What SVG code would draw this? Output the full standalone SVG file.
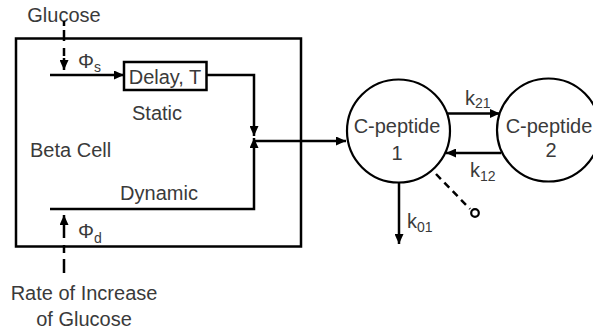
<svg xmlns="http://www.w3.org/2000/svg" width="593" height="334" viewBox="0 0 593 334">
<style>
  text { font-family: "Liberation Sans", Arial, sans-serif; font-size: 20px; fill: #3a3a3a; }
  .sub { font-size: 14px; }
  .mid { text-anchor: middle; }
  .ln { fill: none; stroke: #000; stroke-width: 2.5; }
  .dash { fill: none; stroke: #000; stroke-width: 2.5; stroke-dasharray: 7 5; }
  .shape { fill: #fff; stroke: #000; stroke-width: 2.2; }
</style>
<defs>
  <marker id="ah" markerUnits="userSpaceOnUse" markerWidth="11" markerHeight="9" refX="10" refY="4.5" orient="auto">
    <path d="M0,0 L10,4.5 L0,9 z" fill="#000"/>
  </marker>
</defs>
<rect width="593" height="334" fill="#fff"/>

<g id="beta-cell">
  <rect x="16" y="38.5" width="285" height="208" fill="none" stroke="#000" stroke-width="2.5"/>
  <text x="30" y="157">Beta Cell</text>
  <text x="157" y="120" class="mid">Static</text>
  <text x="159" y="200" class="mid">Dynamic</text>
</g>

<g id="delay">
  <rect x="124" y="62" width="82.5" height="28" fill="#fff" stroke="#000" stroke-width="2.5"/>
  <text x="165" y="84" class="mid">Delay, T</text>
</g>

<g id="cpeptide1">
  <circle cx="398.5" cy="131" r="51.5" class="shape"/>
  <text x="397" y="133" class="mid">C-peptide</text>
  <text x="397" y="160" class="mid">1</text>
</g>

<g id="cpeptide2">
  <circle cx="548.5" cy="130" r="51.5" class="shape"/>
  <text x="549" y="133" class="mid">C-peptide</text>
  <text x="551" y="157" class="mid">2</text>
</g>

<g id="inputs">
  <text x="64" y="22" class="mid">Glucose</text>
  <text x="78" y="68">Φ<tspan class="sub" dy="4">s</tspan></text>
  <text x="78" y="238">Φ<tspan class="sub" dy="5">d</tspan></text>
  <text x="84" y="300" class="mid">Rate of Increase</text>
  <text x="84" y="326" class="mid">of Glucose</text>
</g>

<g id="connectors">
  <path d="M64,21 V59" class="dash" style="stroke-dasharray: 5 4 11 7 8 5"/>
  <path d="M64,58 V70" class="ln" marker-end="url(#ah)"/>
  <path d="M64,273 V228" class="dash" style="stroke-dasharray: 14 6 8 7 10"/>
  <path d="M64,228 V215" class="ln" marker-end="url(#ah)"/>
  <path d="M50,75 H124" class="ln" marker-end="url(#ah)"/>
  <path d="M206.5,75 H254 V136" class="ln" marker-end="url(#ah)"/>
  <path d="M50,209 H254 V138" class="ln" marker-end="url(#ah)"/>
  <path d="M253,141 H346" class="ln" marker-end="url(#ah)"/>
  <path d="M447,113.5 H500" class="ln" marker-end="url(#ah)"/>
  <path d="M501,153 H446" class="ln" marker-end="url(#ah)"/>
  <path d="M399,182.5 V244" class="ln" marker-end="url(#ah)"/>
  <path d="M436,174 L470,209" class="dash"/>
  <circle cx="475" cy="213" r="3.8" fill="#fff" stroke="#000" stroke-width="2.2"/>
</g>

<g id="rates">
  <text x="465" y="105">k<tspan class="sub" dy="3">21</tspan></text>
  <text x="470" y="177">k<tspan class="sub" dy="4">12</tspan></text>
  <text x="407" y="228">k<tspan class="sub" dy="4">01</tspan></text>
</g>
</svg>
